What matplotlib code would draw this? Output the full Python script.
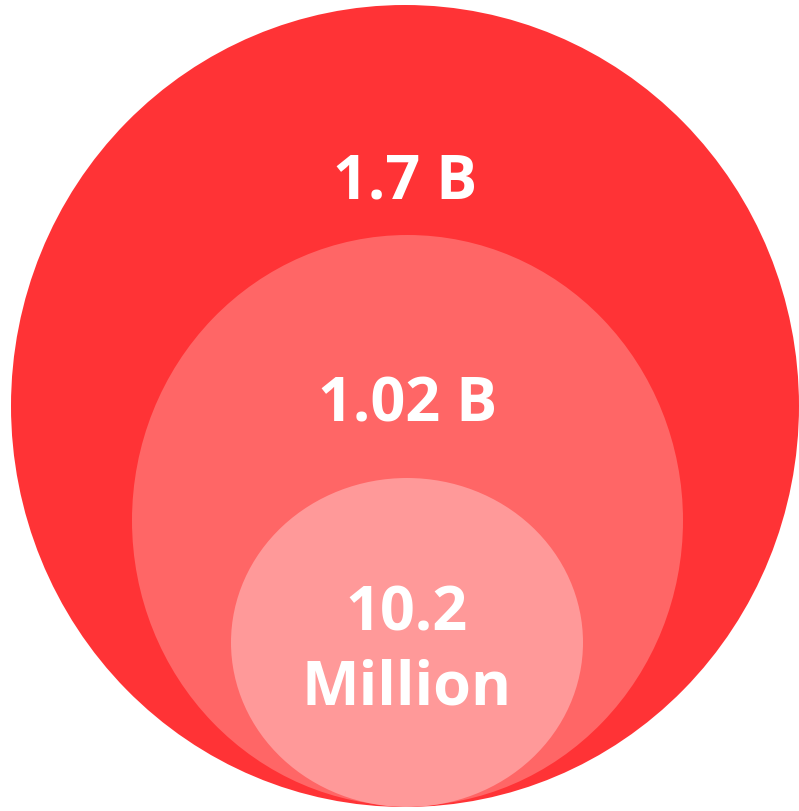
import matplotlib
matplotlib.use("Agg")
import matplotlib.pyplot as plt
from matplotlib.patches import Ellipse

labels = ["1.7 B", "1.02 B", "10.2\nMillion"]
values = [1.7e9, 1.02e9, 10.2e6]
colors = ["#FF3336", "#FF6666", "#FF9999"]

# layout (pixels): center x, center y, width, height
centers_x = [405, 407.5, 407]
centers_y = [407, 521.5, 643.5]
widths = [788, 551, 352]
heights = [802, 571, 329]
label_y = [183, 406, 652]

fig = plt.figure(figsize=(7.99, 8.12), dpi=100)
ax = fig.add_axes([0, 0, 1, 1])
ax.set_xlim(0, 799)
ax.set_ylim(812, 0)
ax.axis("off")

patches = []
for cx, cy, w, h, c in zip(centers_x, centers_y, widths, heights, colors):
    e = Ellipse((cx, cy), w, h, facecolor=c, edgecolor="none")
    ax.add_patch(e)
    patches.append(e)
for p in patches[1:]:
    p.set_clip_path(patches[0])

for lab, cx, ly in zip(labels, centers_x, label_y):
    ax.text(cx, ly, lab, ha="center", va="center", color="white",
            fontsize=44, fontweight="bold", family=["Open Sans", "DejaVu Sans"],
            linespacing=1.28)

fig.savefig("out.png", dpi=100)
